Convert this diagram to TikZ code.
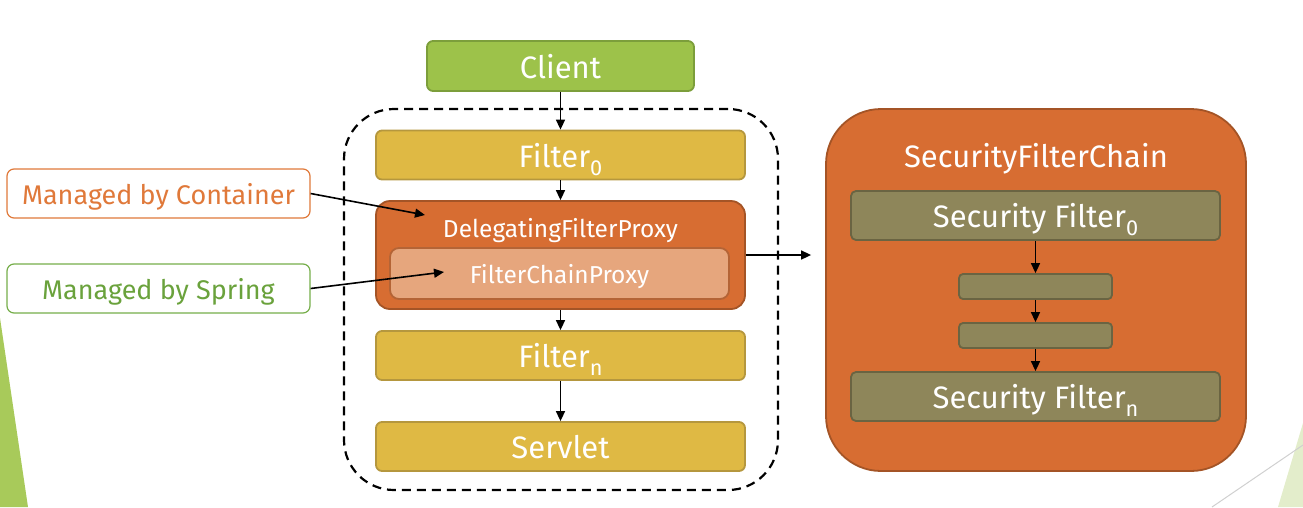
\documentclass[tikz,border=0pt]{standalone}
\usepackage{fontspec}
\setmainfont{Fira Sans}
\usetikzlibrary{arrows.meta}
\definecolor{cgreen}{HTML}{9DC24A}
\definecolor{cgreenb}{HTML}{7C9E3B}
\definecolor{cgold}{HTML}{DFB944}
\definecolor{cgoldb}{HTML}{B5973E}
\definecolor{corange}{HTML}{D76D32}
\definecolor{corangeb}{HTML}{A45426}
\definecolor{clight}{HTML}{E6A67D}
\definecolor{clightb}{HTML}{B46436}
\definecolor{colive}{HTML}{8E865A}
\definecolor{coliveb}{HTML}{6A6442}
\definecolor{ltxtorange}{HTML}{E0793A}
\definecolor{ltxtgreen}{HTML}{6AA23C}
\definecolor{lbdgreen}{HTML}{76AE4A}
\definecolor{tri}{HTML}{A8CA5A}
\definecolor{tripale}{HTML}{E3EDCB}
\definecolor{deco}{HTML}{D0D0D0}
\newcommand{\fs}[1]{\fontsize{#1}{#1}\selectfont}
\newcommand{\sbs}[1]{\raisebox{-0.26em}{\fontsize{0.7em}{0.7em}\selectfont #1}}
\tikzset{
  x=1pt, y=-1pt,
  ctext/.style={text depth=0pt},
  box/.style={draw, line width=1.8pt, rounded corners=6pt, inner sep=0pt, text=white, anchor=center, ctext},
  goldbox/.style={box, fill=cgold, draw=cgoldb, minimum width=369pt, minimum height=49pt, font=\fs{31}},
  olivebox/.style={box, fill=colive, draw=coliveb, rounded corners=5pt},
  tag/.style={draw, line width=1.2pt, rounded corners=7pt, fill=white, minimum width=303pt, minimum height=49pt, inner sep=0pt, font=\fs{27}, ctext},
  arr/.style={line width=1.6pt, -{Triangle[length=10pt,width=9pt]}},
}
\begin{document}
\begin{tikzpicture}
\useasboundingbox (0,0) rectangle (1303,507);
% decorations
\fill[tri] (0,318) -- (28,507) -- (0,507) -- cycle;
\fill[tripale] (1303,423) -- (1303,507) -- (1278,507) -- cycle;
\draw[deco, line width=1pt] (1303,445) -- (1212,507);

% dashed container
\node[draw, dash pattern=on 9pt off 6pt, line width=2.2pt, rounded corners=50pt, minimum width=434pt, minimum height=381pt, inner sep=0pt] (cont) at (561,299.5) {};

\node[box, fill=cgreen, draw=cgreenb, minimum width=267pt, minimum height=50pt, font=\fs{31}] (client) at (560.5,66) {Client};
\node[goldbox] (f0) at (560.5,155) {Filter\sbs{0}};
\node[box, fill=corange, draw=corangeb, rounded corners=14pt, minimum width=369pt, minimum height=108pt] (dfp) at (560.5,255) {};
\node[text=white, font=\fs{24.5}, inner sep=0pt, ctext] (dfpl) at (560.5,228) {DelegatingFilterProxy};
\node[box, fill=clight, draw=clightb, rounded corners=9pt, minimum width=339pt, minimum height=51pt, font=\fs{24.5}] (fcp) at (559.5,273.5) {FilterChainProxy};
\node[goldbox] (fn) at (560.5,355.5) {Filter\sbs{n}};
\node[goldbox] (servlet) at (560.5,446.5) {Servlet};

\draw[arr] (client) -- (f0);
\draw[arr] (f0) -- (dfp);
\draw[arr] (dfp) -- (fn);
\draw[arr] (fn) -- (servlet);

% security filter chain
\node[box, fill=corange, draw=corangeb, rounded corners=55pt, minimum width=420pt, minimum height=362pt] (sfc) at (1036,290) {};
\node[text=white, font=\fs{31}, inner sep=0pt, ctext] (sfcl) at (1036,155) {SecurityFilterChain};
\node[olivebox, minimum width=369pt, minimum height=49pt, font=\fs{31}] (sf0) at (1035.5,215.5) {Security Filter\sbs{0}};
\node[olivebox, rounded corners=4pt, minimum width=153pt, minimum height=25pt] (s1) at (1035.5,286.5) {};
\node[olivebox, rounded corners=4pt, minimum width=153pt, minimum height=25pt] (s2) at (1035.5,335.5) {};
\node[olivebox, minimum width=369pt, minimum height=49pt, font=\fs{31}] (sfn) at (1035.5,396.5) {Security Filter\sbs{n}};
\draw[arr] (sf0) -- (s1);
\draw[arr] (s1) -- (s2);
\draw[arr] (s2) -- (sfn);

\draw[arr, shorten >=14pt] (dfp.east) -- (dfp.east -| sfc.west);

% tags
\node[tag, draw=ltxtorange, text=ltxtorange] (mbc) at (158.5,193.5) {Managed by Container};
\node[tag, draw=lbdgreen, text=ltxtgreen] (mbs) at (158.5,288.5) {Managed by Spring};
\coordinate (cend) at (425,215);
\coordinate (send) at (444,272);
\draw[arr] (mbc.east) -- (cend);
\draw[arr] (mbs.east) -- (send);
\end{tikzpicture}
\end{document}
